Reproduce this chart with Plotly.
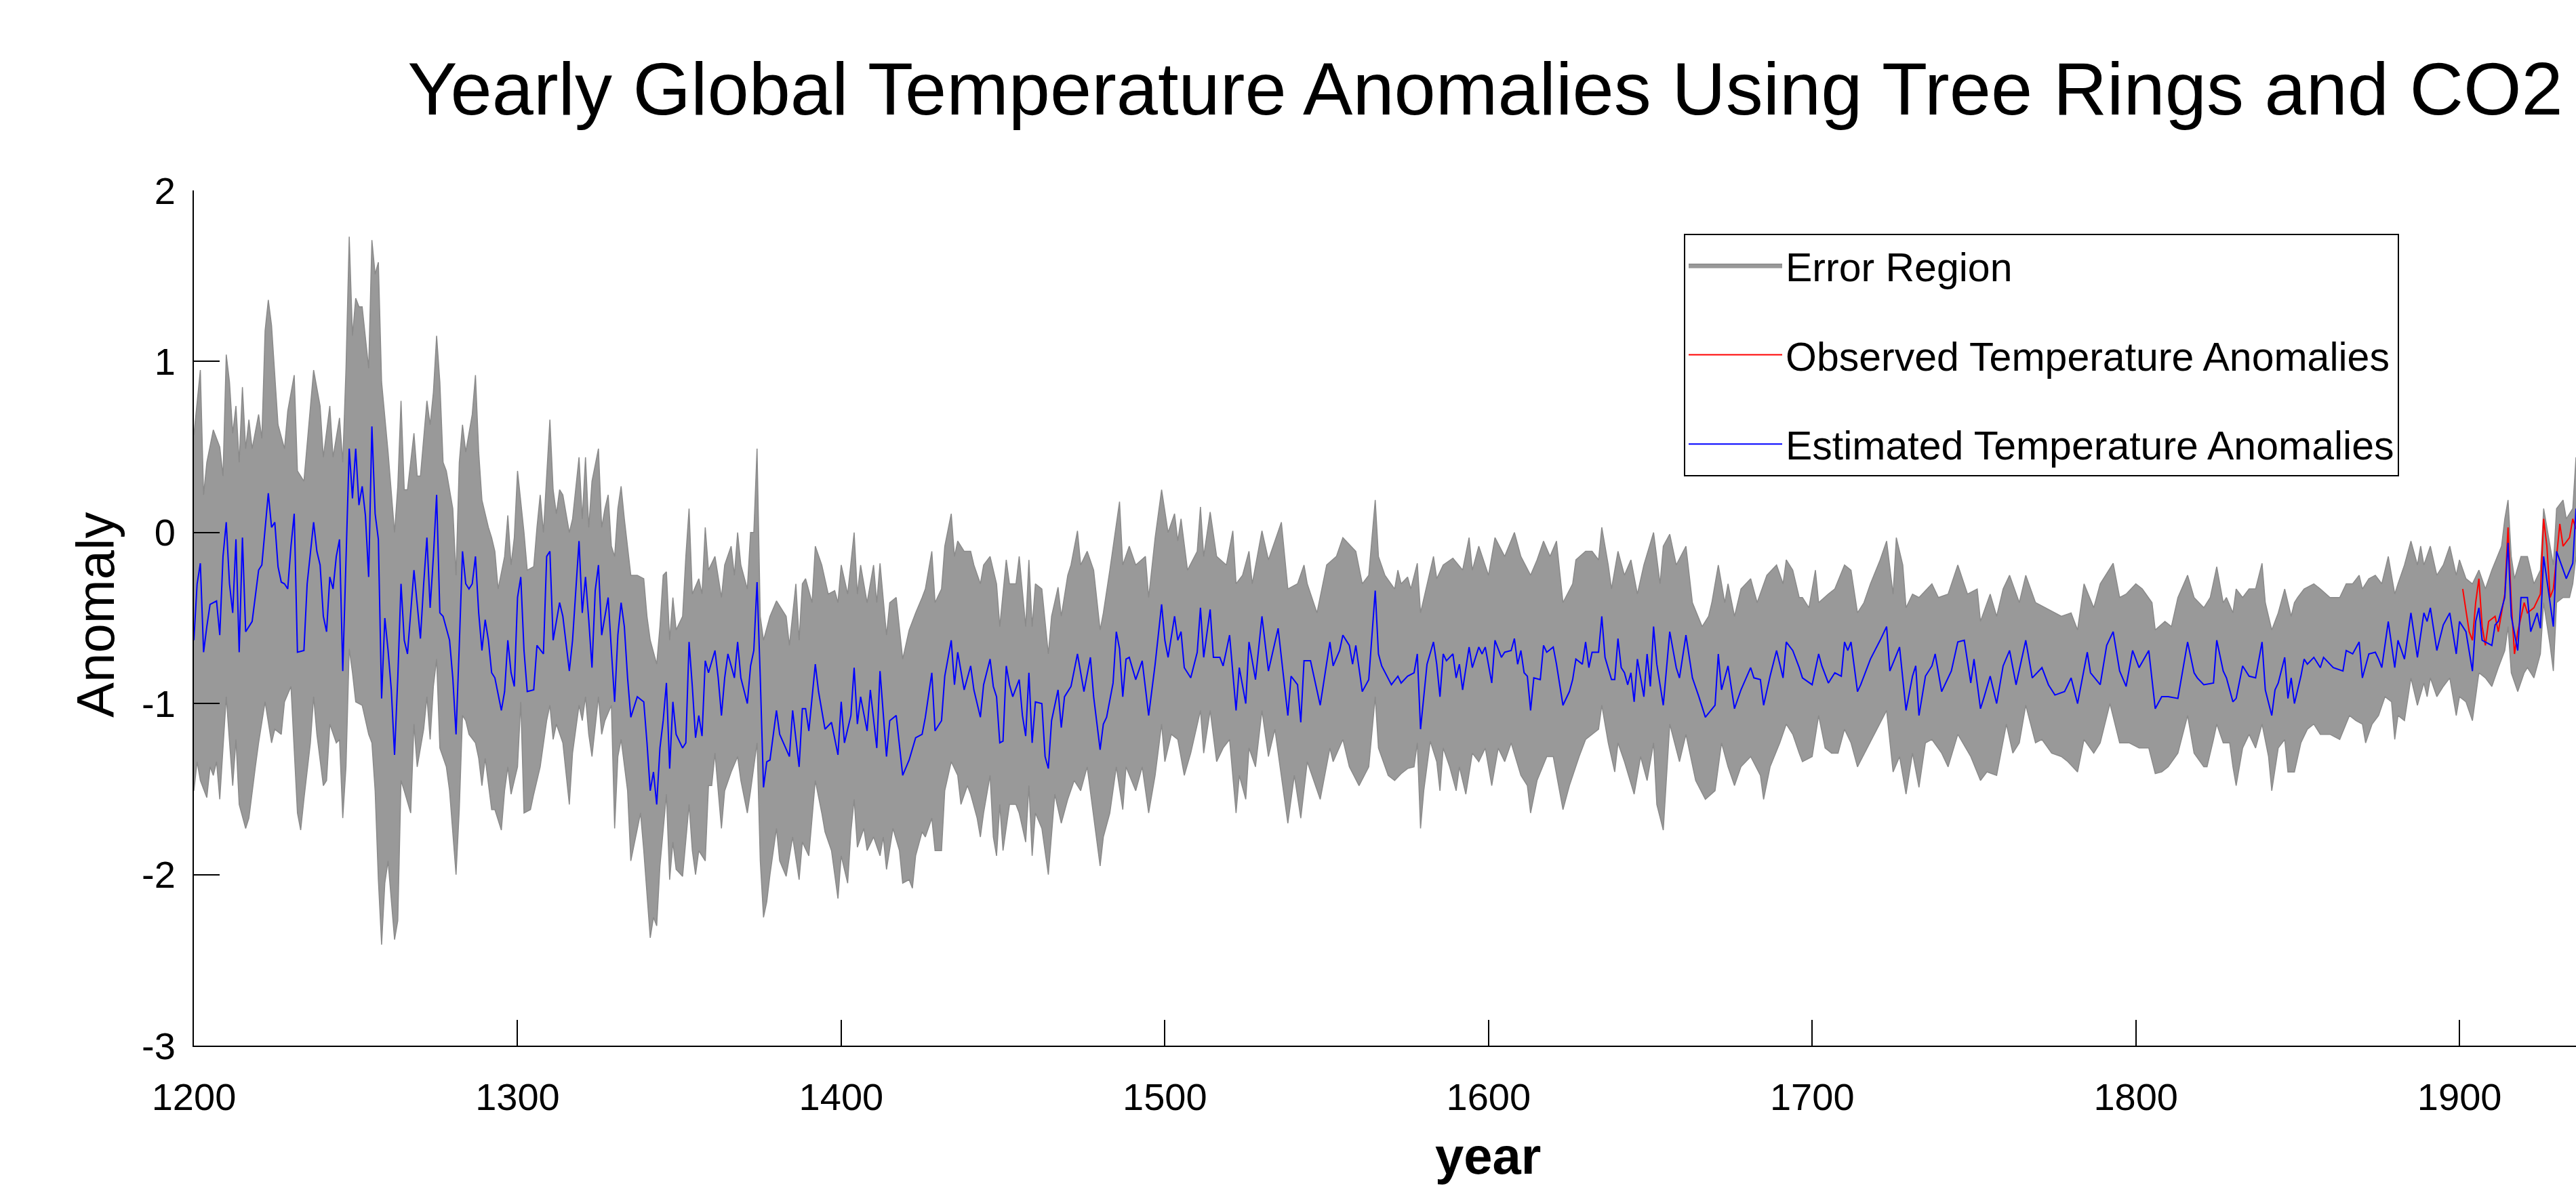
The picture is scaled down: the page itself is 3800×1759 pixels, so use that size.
import plotly.graph_objects as go

# ---------------- data ----------------
year_ticks = [1200, 1300, 1400, 1500, 1600, 1700, 1800, 1900]
anomaly_ticks = [-3, -2, -1, 0, 1, 2]
anomaly_tick_labels = ["-3", "-2", "-1", "0", "1", "2"]

# Estimated temperature anomalies (blue)
estimated = [
    (1200,-0.63),(1201,-0.30),(1202,-0.18),(1203,-0.70),(1204,-0.55),(1205,-0.42),(1207,-0.40),(1208,-0.60),
    (1209,-0.14),(1210,0.06),(1211,-0.30),(1212,-0.47),(1213,-0.04),(1214,-0.70),(1215,-0.03),(1216,-0.58),
    (1218,-0.52),(1219,-0.36),(1220,-0.22),(1221,-0.19),(1222,0.03),(1223,0.23),(1224,0.03),(1225,0.06),
    (1226,-0.20),(1227,-0.29),(1228,-0.30),(1229,-0.33),(1230,-0.08),(1231,0.11),(1232,-0.70),(1234,-0.69),
    (1235,-0.30),(1237,0.06),(1238,-0.11),(1239,-0.19),(1240,-0.49),(1241,-0.58),(1242,-0.26),(1243,-0.33),
    (1244,-0.14),(1245,-0.04),(1246,-0.81),(1247,-0.14),(1248,0.49),(1249,0.20),(1250,0.49),(1251,0.16),
    (1252,0.27),(1253,0.10),(1254,-0.26),(1255,0.62),(1256,0.11),(1257,-0.04),(1258,-0.97),(1259,-0.50),
    (1260,-0.69),(1261,-0.92),(1262,-1.30),(1263,-0.85),(1264,-0.30),(1265,-0.63),(1266,-0.71),(1268,-0.22),
    (1269,-0.41),(1270,-0.62),(1271,-0.30),(1272,-0.03),(1273,-0.44),(1274,-0.14),(1275,0.22),(1276,-0.47),
    (1277,-0.49),(1279,-0.63),(1280,-0.85),(1281,-1.18),(1282,-0.66),(1283,-0.11),(1284,-0.30),(1285,-0.33),
    (1286,-0.30),(1287,-0.14),(1288,-0.47),(1289,-0.69),(1290,-0.51),(1291,-0.63),(1292,-0.82),(1293,-0.85),
    (1295,-1.04),(1296,-0.93),(1297,-0.63),(1298,-0.82),(1299,-0.90),(1300,-0.38),(1301,-0.26),(1302,-0.69),
    (1303,-0.93),(1305,-0.92),(1306,-0.66),(1308,-0.71),(1309,-0.14),(1310,-0.11),(1311,-0.63),(1313,-0.41),
    (1314,-0.49),(1316,-0.81),(1317,-0.63),(1319,-0.05),(1320,-0.47),(1321,-0.26),(1322,-0.51),(1323,-0.79),
    (1324,-0.34),(1325,-0.19),(1326,-0.60),(1327,-0.49),(1328,-0.38),(1329,-0.69),(1330,-0.99),(1331,-0.60),
    (1332,-0.41),(1333,-0.55),(1334,-0.85),(1335,-1.08),(1337,-0.96),(1339,-0.99),(1340,-1.23),(1341,-1.51),
    (1342,-1.40),(1343,-1.59),(1344,-1.26),(1345,-1.10),(1346,-0.88),(1347,-1.38),(1348,-0.99),(1349,-1.18),
    (1351,-1.26),(1352,-1.23),(1353,-0.64),(1354,-0.90),(1355,-1.20),(1356,-1.07),(1357,-1.19),(1358,-0.75),
    (1359,-0.82),(1361,-0.69),(1362,-0.85),(1363,-1.07),(1364,-0.85),(1365,-0.71),(1367,-0.85),(1368,-0.64),
    (1369,-0.85),(1371,-1.00),(1372,-0.78),(1373,-0.69),(1374,-0.29),(1375,-0.85),(1376,-1.49),(1377,-1.34),
    (1378,-1.33),(1380,-1.04),(1381,-1.18),(1384,-1.31),(1385,-1.04),(1387,-1.37),(1388,-1.03),(1389,-1.03),
    (1390,-1.16),(1392,-0.77),(1393,-0.93),(1395,-1.15),(1397,-1.11),(1399,-1.30),(1400,-0.99),(1401,-1.23),
    (1403,-1.07),(1404,-0.79),(1405,-1.12),(1406,-0.96),(1408,-1.16),(1409,-0.92),(1411,-1.26),(1412,-0.81),
    (1414,-1.31),(1415,-1.10),(1417,-1.07),(1419,-1.42),(1421,-1.33),(1423,-1.20),(1425,-1.18),(1426,-1.08),
    (1428,-0.82),(1429,-1.16),(1431,-1.10),(1432,-0.84),(1434,-0.63),(1435,-0.89),(1436,-0.70),(1438,-0.92),
    (1440,-0.78),(1441,-0.92),(1443,-1.08),(1444,-0.89),(1446,-0.74),(1447,-0.90),(1448,-0.96),(1449,-1.23),
    (1450,-1.22),(1451,-0.78),(1452,-0.89),(1453,-0.96),(1455,-0.86),(1456,-1.07),(1457,-1.19),(1458,-0.82),
    (1459,-1.23),(1460,-0.99),(1462,-1.00),(1463,-1.31),(1464,-1.38),(1465,-1.10),(1467,-0.92),(1468,-1.14),
    (1469,-0.96),(1471,-0.90),(1473,-0.71),(1475,-0.93),(1477,-0.73),(1478,-0.96),(1480,-1.27),(1481,-1.12),
    (1482,-1.08),(1484,-0.88),(1485,-0.58),(1486,-0.68),(1487,-0.96),(1488,-0.74),(1489,-0.73),(1491,-0.86),
    (1493,-0.75),(1495,-1.07),(1497,-0.77),(1499,-0.42),(1500,-0.63),(1501,-0.73),(1503,-0.49),(1504,-0.63),
    (1505,-0.58),(1506,-0.79),(1508,-0.85),(1510,-0.70),(1511,-0.44),(1512,-0.73),(1514,-0.45),(1515,-0.73),
    (1517,-0.73),(1518,-0.78),(1520,-0.60),(1522,-1.04),(1523,-0.79),(1525,-1.00),(1526,-0.64),(1528,-0.86),
    (1530,-0.49),(1532,-0.81),(1535,-0.56),(1538,-1.07),(1539,-0.84),(1541,-0.89),(1542,-1.11),(1543,-0.75),
    (1545,-0.75),(1548,-1.01),(1551,-0.64),(1552,-0.78),(1554,-0.69),(1555,-0.60),(1557,-0.66),(1558,-0.77),
    (1559,-0.66),(1561,-0.93),(1563,-0.86),(1565,-0.34),(1566,-0.71),(1567,-0.78),(1570,-0.89),(1572,-0.84),
    (1573,-0.88),(1575,-0.84),(1577,-0.82),(1578,-0.71),(1579,-1.15),(1580,-0.96),(1581,-0.77),(1583,-0.64),
    (1584,-0.77),(1585,-0.96),(1586,-0.71),(1587,-0.75),(1589,-0.71),(1590,-0.85),(1591,-0.77),(1592,-0.92),
    (1594,-0.67),(1595,-0.79),(1597,-0.67),(1598,-0.71),(1599,-0.67),(1601,-0.88),(1602,-0.63),(1604,-0.73),
    (1605,-0.70),(1607,-0.69),(1608,-0.62),(1609,-0.77),(1610,-0.69),(1611,-0.82),(1612,-0.84),(1613,-1.04),
    (1614,-0.85),(1616,-0.86),(1617,-0.66),(1618,-0.70),(1620,-0.67),(1621,-0.77),(1623,-1.01),(1625,-0.93),
    (1626,-0.86),(1627,-0.74),(1629,-0.77),(1630,-0.64),(1631,-0.79),(1632,-0.70),(1634,-0.70),(1635,-0.49),
    (1636,-0.73),(1638,-0.86),(1639,-0.86),(1640,-0.62),(1641,-0.79),(1642,-0.82),(1643,-0.89),(1644,-0.82),
    (1645,-0.99),(1646,-0.74),(1648,-0.96),(1649,-0.71),(1650,-0.90),(1651,-0.55),(1652,-0.77),(1654,-1.01),
    (1656,-0.58),(1658,-0.79),(1659,-0.85),(1661,-0.60),(1663,-0.85),(1665,-0.96),(1667,-1.08),(1670,-1.01),
    (1671,-0.71),(1672,-0.92),(1674,-0.78),(1676,-1.03),(1678,-0.92),(1681,-0.79),(1682,-0.85),(1684,-0.86),
    (1685,-1.01),(1687,-0.84),(1689,-0.69),(1691,-0.85),(1692,-0.64),(1694,-0.69),(1696,-0.79),(1697,-0.85),
    (1700,-0.89),(1702,-0.71),(1703,-0.78),(1705,-0.88),(1707,-0.82),(1709,-0.84),(1710,-0.64),(1711,-0.69),
    (1712,-0.64),(1714,-0.93),(1715,-0.89),(1718,-0.74),(1721,-0.63),(1723,-0.55),(1724,-0.81),(1727,-0.67),
    (1729,-1.04),(1731,-0.84),(1732,-0.78),(1733,-1.07),(1735,-0.84),(1737,-0.78),(1738,-0.71),(1740,-0.93),
    (1743,-0.81),(1745,-0.64),(1747,-0.63),(1749,-0.88),(1750,-0.74),(1752,-1.03),(1753,-0.97),(1755,-0.84),
    (1757,-1.00),(1759,-0.78),(1761,-0.69),(1763,-0.89),(1766,-0.63),(1768,-0.85),(1771,-0.79),(1773,-0.89),
    (1775,-0.95),(1778,-0.93),(1780,-0.85),(1782,-1.00),(1785,-0.70),(1786,-0.82),(1789,-0.89),(1791,-0.66),
    (1793,-0.58),(1795,-0.81),(1797,-0.90),(1799,-0.69),(1801,-0.79),(1804,-0.69),(1806,-1.03),(1808,-0.96),
    (1810,-0.96),(1813,-0.97),(1815,-0.74),(1816,-0.64),(1818,-0.82),(1819,-0.85),(1821,-0.89),(1824,-0.88),
    (1825,-0.63),(1827,-0.81),(1828,-0.85),(1830,-0.99),(1831,-0.97),(1833,-0.78),(1835,-0.84),(1837,-0.85),
    (1839,-0.64),(1840,-0.92),(1842,-1.07),(1843,-0.92),(1844,-0.88),(1846,-0.73),(1847,-0.97),(1848,-0.85),
    (1849,-1.00),(1851,-0.84),(1852,-0.74),(1853,-0.77),(1855,-0.73),(1857,-0.79),(1858,-0.73),(1861,-0.79),
    (1864,-0.81),(1865,-0.69),(1867,-0.71),(1869,-0.64),(1870,-0.85),(1872,-0.71),(1874,-0.70),(1875,-0.74),
    (1876,-0.79),(1878,-0.52),(1880,-0.79),(1881,-0.63),(1883,-0.74),(1885,-0.47),(1887,-0.73),(1889,-0.47),
    (1890,-0.52),(1891,-0.44),(1893,-0.69),(1895,-0.54),(1897,-0.47),(1899,-0.71),(1900,-0.52),(1902,-0.58),
    (1904,-0.81),(1905,-0.52),(1906,-0.44),(1907,-0.63),(1910,-0.66),(1911,-0.54),(1912,-0.52),(1914,-0.38),
    (1915,-0.06),(1916,-0.49),(1918,-0.69),(1919,-0.38),(1921,-0.38),(1922,-0.58),(1924,-0.47),(1925,-0.56),
    (1926,-0.14),(1927,-0.27),(1929,-0.55),(1930,-0.11),(1932,-0.22),(1933,-0.27),(1935,-0.18),(1936,0.14),
]

# Observed temperature anomalies (red)
observed = [
    (1901,-0.33),(1903,-0.58),(1904,-0.63),(1905,-0.41),(1906,-0.27),(1907,-0.55),(1908,-0.66),(1909,-0.52),
    (1911,-0.49),(1912,-0.58),(1914,-0.36),(1915,0.03),(1916,-0.41),(1917,-0.71),(1918,-0.58),(1920,-0.41),
    (1921,-0.47),(1923,-0.44),(1925,-0.36),(1926,0.08),(1927,-0.08),(1928,-0.38),(1929,-0.33),(1931,0.05),
    (1932,-0.08),(1934,-0.03),(1935,0.08),(1936,0.02),
]

# Upper edge of the error region
error_upper = [
    (1200,0.57),(1202,0.95),(1203,0.22),(1204,0.41),(1206,0.60),(1208,0.50),(1209,0.33),(1210,1.04),
    (1211,0.88),(1212,0.58),(1213,0.74),(1214,0.41),(1215,0.85),(1216,0.49),(1217,0.66),(1218,0.49),
    (1220,0.69),(1221,0.55),(1222,1.18),(1223,1.36),(1224,1.21),(1226,0.63),(1228,0.49),(1229,0.71),
    (1231,0.92),(1232,0.36),(1234,0.30),(1236,0.74),(1237,0.95),(1239,0.74),(1240,0.44),(1242,0.74),
    (1243,0.44),(1245,0.67),(1246,0.41),(1247,0.96),(1248,1.73),(1249,1.15),(1250,1.37),(1251,1.32),
    (1252,1.32),(1254,0.96),(1255,1.71),(1256,1.51),(1257,1.58),(1258,0.88),(1260,0.47),(1262,0.00),
    (1263,0.27),(1264,0.77),(1265,0.25),(1266,0.25),(1268,0.58),(1269,0.33),(1270,0.33),(1272,0.77),
    (1273,0.63),(1274,0.82),(1275,1.15),(1276,0.88),(1277,0.41),(1278,0.36),(1280,0.14),(1281,-0.25),
    (1282,0.41),(1283,0.63),(1284,0.47),(1286,0.69),(1287,0.92),(1288,0.47),(1289,0.19),(1291,0.03),
    (1292,-0.03),(1293,-0.11),(1294,-0.33),(1296,-0.14),(1297,0.10),(1298,-0.19),(1299,-0.03),(1300,0.36),
    (1302,0.00),(1303,-0.22),(1305,-0.20),(1306,0.03),(1307,0.22),(1308,0.00),(1310,0.66),(1311,0.25),
    (1312,0.11),(1313,0.25),(1314,0.22),(1316,0.00),(1317,0.08),(1319,0.44),(1320,0.08),(1321,0.44),
    (1322,0.03),(1323,0.30),(1325,0.49),(1326,0.03),(1327,0.14),(1328,0.22),(1329,-0.08),(1330,-0.14),
    (1331,0.14),(1332,0.27),(1333,0.08),(1335,-0.25),(1337,-0.25),(1339,-0.27),(1340,-0.49),(1341,-0.63),
    (1343,-0.77),(1344,-0.55),(1345,-0.25),(1346,-0.23),(1347,-0.63),(1348,-0.38),(1349,-0.57),(1351,-0.49),
    (1352,-0.14),(1353,0.14),(1354,-0.36),(1356,-0.27),(1357,-0.36),(1358,0.03),(1359,-0.22),(1361,-0.14),
    (1362,-0.27),(1363,-0.38),(1364,-0.19),(1366,-0.08),(1367,-0.25),(1368,0.00),(1369,-0.19),(1371,-0.33),
    (1372,0.00),(1373,0.00),(1374,0.49),(1375,-0.49),(1376,-0.63),(1378,-0.49),(1380,-0.40),(1383,-0.49),
    (1384,-0.66),(1386,-0.30),(1387,-0.63),(1388,-0.30),(1389,-0.27),(1391,-0.41),(1392,-0.08),(1394,-0.19),
    (1396,-0.36),(1398,-0.34),(1399,-0.41),(1400,-0.19),(1402,-0.36),(1404,0.00),(1405,-0.36),(1406,-0.19),
    (1408,-0.41),(1410,-0.19),(1411,-0.41),(1412,-0.18),(1414,-0.60),(1415,-0.41),(1417,-0.38),(1419,-0.74),
    (1421,-0.57),(1423,-0.47),(1425,-0.38),(1426,-0.33),(1428,-0.11),(1429,-0.41),(1431,-0.33),(1432,-0.08),
    (1434,0.11),(1435,-0.14),(1436,-0.05),(1438,-0.11),(1440,-0.11),(1441,-0.19),(1443,-0.30),(1444,-0.19),
    (1446,-0.14),(1448,-0.30),(1449,-0.55),(1451,-0.16),(1452,-0.30),(1454,-0.30),(1455,-0.14),(1457,-0.55),
    (1458,-0.16),(1459,-0.55),(1460,-0.30),(1462,-0.33),(1464,-0.71),(1465,-0.49),(1467,-0.32),(1468,-0.49),
    (1470,-0.25),(1471,-0.19),(1473,0.01),(1474,-0.19),(1476,-0.11),(1478,-0.22),(1480,-0.57),(1481,-0.47),
    (1483,-0.22),(1486,0.18),(1487,-0.19),(1489,-0.08),(1491,-0.19),(1494,-0.14),(1495,-0.38),(1497,-0.03),
    (1499,0.25),(1501,0.00),(1503,0.11),(1504,-0.05),(1505,0.08),(1507,-0.22),(1510,-0.11),(1511,0.15),
    (1512,-0.14),(1514,0.12),(1516,-0.14),(1519,-0.19),(1521,0.01),(1522,-0.30),(1524,-0.25),(1526,-0.11),
    (1527,-0.30),(1530,0.01),(1532,-0.16),(1536,0.06),(1538,-0.33),(1541,-0.30),(1543,-0.19),(1544,-0.30),
    (1547,-0.47),(1550,-0.19),(1553,-0.14),(1555,-0.03),(1559,-0.11),(1561,-0.30),(1563,-0.25),(1565,0.19),
    (1566,-0.14),(1568,-0.25),(1571,-0.33),(1572,-0.22),(1573,-0.30),(1575,-0.26),(1576,-0.33),(1578,-0.18),
    (1579,-0.47),(1581,-0.30),(1583,-0.14),(1584,-0.27),(1586,-0.19),(1589,-0.15),(1592,-0.22),(1594,-0.03),
    (1595,-0.22),(1597,-0.08),(1600,-0.25),(1602,-0.03),(1605,-0.14),(1608,0.00),(1610,-0.14),(1613,-0.25),
    (1615,-0.16),(1617,-0.05),(1619,-0.14),(1621,-0.05),(1623,-0.41),(1626,-0.30),(1627,-0.16),(1630,-0.11),
    (1632,-0.11),(1634,-0.16),(1635,0.03),(1637,-0.19),(1638,-0.33),(1640,-0.11),(1642,-0.25),(1644,-0.16),
    (1646,-0.36),(1648,-0.19),(1651,0.00),(1653,-0.30),(1654,-0.08),(1656,-0.01),(1658,-0.19),(1661,-0.08),
    (1663,-0.41),(1666,-0.55),(1668,-0.49),(1669,-0.41),(1671,-0.19),(1673,-0.41),(1674,-0.30),(1676,-0.49),
    (1678,-0.33),(1681,-0.27),(1683,-0.41),(1686,-0.25),(1689,-0.19),(1691,-0.30),(1692,-0.16),(1694,-0.22),
    (1696,-0.38),(1697,-0.38),(1699,-0.44),(1701,-0.22),(1702,-0.41),(1705,-0.36),(1707,-0.33),(1710,-0.19),
    (1712,-0.22),(1714,-0.47),(1716,-0.41),(1718,-0.30),(1721,-0.16),(1723,-0.05),(1725,-0.36),(1726,-0.03),
    (1728,-0.19),(1729,-0.44),(1731,-0.36),(1733,-0.38),(1734,-0.36),(1737,-0.30),(1739,-0.38),(1742,-0.36),
    (1745,-0.19),(1748,-0.36),(1751,-0.33),(1752,-0.52),(1755,-0.36),(1757,-0.49),(1759,-0.33),(1761,-0.25),
    (1764,-0.41),(1766,-0.25),(1769,-0.41),(1772,-0.44),(1775,-0.47),(1777,-0.49),(1780,-0.47),(1782,-0.57),
    (1784,-0.30),(1787,-0.44),(1789,-0.30),(1793,-0.18),(1795,-0.38),(1797,-0.36),(1800,-0.30),(1802,-0.33),
    (1805,-0.41),(1806,-0.57),(1809,-0.52),(1811,-0.55),(1813,-0.38),(1816,-0.25),(1818,-0.38),(1821,-0.44),
    (1823,-0.38),(1825,-0.20),(1827,-0.41),(1828,-0.38),(1830,-0.47),(1831,-0.33),(1833,-0.38),(1835,-0.33),
    (1837,-0.33),(1839,-0.18),(1840,-0.41),(1842,-0.57),(1844,-0.47),(1846,-0.33),(1848,-0.49),(1849,-0.41),
    (1850,-0.38),(1852,-0.33),(1855,-0.30),(1857,-0.33),(1860,-0.38),(1863,-0.38),(1865,-0.30),(1867,-0.30),
    (1869,-0.25),(1870,-0.33),(1872,-0.27),(1874,-0.25),(1876,-0.30),(1878,-0.14),(1880,-0.36),(1881,-0.30),
    (1883,-0.19),(1885,-0.05),(1887,-0.19),(1888,-0.08),(1889,-0.19),(1891,-0.08),(1893,-0.25),(1895,-0.19),
    (1897,-0.08),(1899,-0.25),(1900,-0.16),(1902,-0.27),(1904,-0.30),(1906,-0.22),(1908,-0.33),(1910,-0.22),
    (1913,-0.08),(1914,0.08),(1915,0.19),(1916,-0.14),(1917,-0.27),(1919,-0.14),(1921,-0.14),(1923,-0.30),
    (1925,-0.22),(1926,0.14),(1927,0.03),(1929,-0.19),(1930,0.14),(1932,0.19),(1933,0.08),(1935,0.14),
    (1936,0.44),
]

# Lower edge of the error region
error_lower = [
    (1200,-1.51),(1201,-1.34),(1202,-1.45),(1204,-1.55),(1205,-1.37),(1206,-1.42),(1207,-1.34),(1208,-1.56),
    (1210,-0.96),(1211,-1.23),(1212,-1.48),(1213,-1.21),(1214,-1.59),(1216,-1.73),(1217,-1.67),(1219,-1.37),
    (1220,-1.23),(1222,-0.99),(1224,-1.23),(1225,-1.15),(1227,-1.18),(1228,-0.99),(1230,-0.90),(1232,-1.64),
    (1233,-1.74),(1234,-1.56),(1236,-1.23),(1237,-0.96),(1238,-1.18),(1240,-1.48),(1241,-1.45),(1242,-1.12),
    (1244,-1.23),(1245,-1.21),(1246,-1.67),(1247,-1.37),(1248,-0.68),(1249,-0.82),(1250,-0.99),(1252,-1.01),
    (1254,-1.18),(1255,-1.23),(1256,-1.51),(1257,-2.03),(1258,-2.41),(1259,-2.05),(1260,-1.92),(1262,-2.38),
    (1263,-2.27),(1264,-1.45),(1265,-1.51),(1267,-1.64),(1268,-1.12),(1269,-1.37),(1271,-1.15),(1272,-0.96),
    (1273,-1.21),(1274,-0.90),(1275,-0.74),(1276,-1.26),(1278,-1.37),(1279,-1.51),(1281,-2.00),(1282,-1.62),
    (1283,-1.07),(1284,-1.10),(1285,-1.18),(1287,-1.23),(1288,-1.32),(1289,-1.48),(1290,-1.32),(1292,-1.62),
    (1293,-1.62),(1295,-1.74),(1296,-1.51),(1297,-1.37),(1298,-1.53),(1300,-1.37),(1301,-0.99),(1302,-1.64),
    (1304,-1.62),(1305,-1.53),(1307,-1.37),(1309,-1.10),(1310,-1.01),(1311,-1.21),(1312,-1.12),(1314,-1.23),
    (1316,-1.59),(1317,-1.29),(1319,-1.01),(1320,-1.10),(1321,-0.96),(1322,-1.18),(1323,-1.31),(1325,-0.96),
    (1326,-1.18),(1327,-1.10),(1329,-1.01),(1330,-1.73),(1331,-1.31),(1332,-1.21),(1334,-1.51),(1335,-1.92),
    (1337,-1.73),(1338,-1.64),(1339,-1.86),(1340,-2.10),(1341,-2.37),(1342,-2.25),(1343,-2.30),(1344,-1.95),
    (1346,-1.53),(1347,-2.03),(1348,-1.81),(1349,-1.97),(1351,-2.01),(1353,-1.59),(1354,-1.86),(1355,-2.00),
    (1356,-1.86),(1358,-1.92),(1359,-1.48),(1360,-1.48),(1361,-1.29),(1363,-1.73),(1364,-1.51),(1366,-1.40),
    (1368,-1.31),(1369,-1.45),(1371,-1.64),(1372,-1.51),(1374,-1.23),(1375,-1.92),(1376,-2.25),(1377,-2.16),
    (1378,-2.00),(1380,-1.73),(1381,-1.92),(1383,-2.01),(1385,-1.78),(1387,-2.03),(1388,-1.81),(1390,-1.89),
    (1392,-1.45),(1394,-1.64),(1395,-1.75),(1397,-1.86),(1399,-2.14),(1400,-1.89),(1402,-2.05),(1403,-1.75),
    (1404,-1.56),(1405,-1.84),(1407,-1.73),(1408,-1.86),(1410,-1.78),(1412,-1.89),(1413,-1.78),(1414,-1.97),
    (1416,-1.73),(1418,-1.86),(1419,-2.05),(1421,-2.03),(1422,-2.08),(1423,-1.89),(1425,-1.75),(1426,-1.78),
    (1428,-1.67),(1429,-1.86),(1431,-1.86),(1432,-1.51),(1434,-1.34),(1436,-1.42),(1437,-1.59),(1439,-1.48),
    (1440,-1.53),(1442,-1.67),(1443,-1.78),(1444,-1.64),(1446,-1.42),(1447,-1.78),(1448,-1.89),(1449,-1.59),
    (1450,-1.86),(1452,-1.59),(1454,-1.59),(1455,-1.64),(1457,-1.81),(1458,-1.48),(1459,-1.89),(1460,-1.64),
    (1462,-1.73),(1464,-2.00),(1465,-1.78),(1466,-1.53),(1468,-1.70),(1470,-1.56),(1472,-1.45),(1474,-1.51),
    (1476,-1.37),(1478,-1.67),(1480,-1.95),(1481,-1.78),(1483,-1.64),(1485,-1.37),(1487,-1.62),(1488,-1.37),
    (1491,-1.51),(1493,-1.37),(1495,-1.64),(1497,-1.42),(1499,-1.12),(1500,-1.34),(1502,-1.18),(1504,-1.21),
    (1506,-1.42),(1508,-1.29),(1511,-1.04),(1512,-1.29),(1514,-1.04),(1516,-1.34),(1518,-1.26),(1520,-1.21),
    (1522,-1.64),(1523,-1.42),(1525,-1.56),(1526,-1.26),(1528,-1.37),(1530,-1.04),(1532,-1.31),(1534,-1.15),
    (1538,-1.70),(1540,-1.42),(1542,-1.67),(1544,-1.34),(1548,-1.56),(1551,-1.26),(1552,-1.34),(1555,-1.21),
    (1557,-1.37),(1560,-1.48),(1563,-1.37),(1565,-0.96),(1566,-1.26),(1569,-1.42),(1571,-1.45),(1573,-1.41),
    (1575,-1.38),(1577,-1.37),(1578,-1.23),(1579,-1.73),(1580,-1.51),(1582,-1.22),(1584,-1.34),(1585,-1.51),
    (1586,-1.26),(1588,-1.37),(1590,-1.51),(1591,-1.37),(1593,-1.53),(1595,-1.29),(1597,-1.34),(1599,-1.26),
    (1601,-1.48),(1603,-1.26),(1605,-1.34),(1607,-1.23),(1610,-1.42),(1612,-1.48),(1613,-1.64),(1615,-1.45),
    (1618,-1.31),(1620,-1.31),(1623,-1.62),(1625,-1.48),(1628,-1.31),(1630,-1.21),(1632,-1.18),(1634,-1.15),
    (1635,-1.01),(1637,-1.23),(1639,-1.40),(1640,-1.23),(1642,-1.34),(1645,-1.53),(1647,-1.31),(1649,-1.45),
    (1651,-1.23),(1652,-1.59),(1654,-1.74),(1656,-1.12),(1659,-1.34),(1661,-1.18),(1664,-1.45),(1667,-1.56),
    (1670,-1.51),(1672,-1.23),(1674,-1.37),(1676,-1.48),(1678,-1.37),(1681,-1.31),(1684,-1.42),(1685,-1.56),
    (1687,-1.37),(1690,-1.23),(1692,-1.12),(1694,-1.18),(1696,-1.29),(1697,-1.34),(1700,-1.31),(1702,-1.07),
    (1704,-1.26),(1706,-1.29),(1708,-1.29),(1710,-1.15),(1712,-1.23),(1714,-1.37),(1717,-1.26),(1720,-1.15),
    (1723,-1.04),(1725,-1.40),(1727,-1.31),(1729,-1.53),(1731,-1.29),(1733,-1.49),(1735,-1.23),(1737,-1.21),
    (1740,-1.29),(1742,-1.37),(1745,-1.18),(1749,-1.31),(1752,-1.45),(1754,-1.40),(1757,-1.42),(1760,-1.12),
    (1762,-1.29),(1764,-1.23),(1766,-1.01),(1769,-1.23),(1771,-1.21),(1774,-1.29),(1777,-1.31),(1779,-1.34),
    (1782,-1.40),(1784,-1.21),(1787,-1.29),(1789,-1.23),(1792,-1.00),(1795,-1.23),(1798,-1.23),(1801,-1.26),
    (1804,-1.26),(1806,-1.41),(1808,-1.40),(1810,-1.37),(1813,-1.29),(1816,-1.07),(1818,-1.29),(1821,-1.37),
    (1822,-1.37),(1824,-1.21),(1825,-1.12),(1827,-1.23),(1829,-1.23),(1830,-1.37),(1831,-1.48),(1833,-1.26),
    (1835,-1.18),(1837,-1.26),(1839,-1.12),(1841,-1.31),(1842,-1.51),(1844,-1.26),(1846,-1.21),(1847,-1.40),
    (1849,-1.40),(1851,-1.23),(1853,-1.15),(1855,-1.12),(1857,-1.18),(1860,-1.18),(1863,-1.21),(1866,-1.07),
    (1868,-1.10),(1870,-1.12),(1871,-1.23),(1873,-1.12),(1875,-1.07),(1877,-0.96),(1879,-0.99),(1880,-1.21),
    (1881,-1.07),(1883,-1.10),(1885,-0.85),(1887,-1.01),(1889,-0.88),(1890,-0.96),(1891,-0.85),(1893,-0.96),
    (1895,-0.90),(1897,-0.85),(1899,-1.07),(1900,-0.96),(1902,-0.99),(1904,-1.10),(1906,-0.82),(1908,-0.85),
    (1910,-0.90),(1912,-0.79),(1914,-0.69),(1915,-0.55),(1916,-0.82),(1918,-0.93),(1920,-0.82),(1921,-0.79),
    (1923,-0.85),(1925,-0.71),(1926,-0.41),(1928,-0.66),(1929,-0.81),(1930,-0.41),(1932,-0.38),(1934,-0.38),
    (1935,-0.30),(1936,-0.14),
]

# ---------------- figure ----------------
def split(pairs):
    return [p[0] for p in pairs], [p[1] for p in pairs]

est_x, est_y = split(estimated)
obs_x, obs_y = split(observed)
up_x, up_y = split(error_upper)
lo_x, lo_y = split(error_lower)

FONT = "'Liberation Sans', Arial, sans-serif"

fig = go.Figure()
fig.add_trace(go.Scatter(x=lo_x, y=lo_y, mode="lines", line=dict(color="#8a8a8a", width=1.5),
                         showlegend=False, hoverinfo="skip", legendgroup="err"))
fig.add_trace(go.Scatter(x=up_x, y=up_y, mode="lines", fill="tonexty", fillcolor="#999999",
                         line=dict(color="#8a8a8a", width=1.5), name="Error Region", legendgroup="err"))
fig.add_trace(go.Scatter(x=obs_x, y=obs_y, mode="lines", line=dict(color="#ff0000", width=2),
                         name="Observed Temperature Anomalies", legendgroup="obs"))
fig.add_trace(go.Scatter(x=est_x, y=est_y, mode="lines", line=dict(color="#0000ff", width=2),
                         name="Estimated Temperature Anomalies", legendgroup="est"))

axis_common = dict(
    showgrid=False, zeroline=False, showline=True, linecolor="black", linewidth=2,
    ticks="inside", ticklen=38, tickwidth=2, tickcolor="black",
    tickfont=dict(family=FONT, size=56, color="black"),
)

fig.update_layout(
    width=3800, height=1759,
    margin=dict(l=286, r=0, t=281, b=216, pad=0),
    paper_bgcolor="white", plot_bgcolor="white",
    font=dict(family=FONT, color="black"),
    title=dict(text="Yearly Global Temperature Anomalies Using Tree Rings and CO2",
               x=2191 / 3800, xanchor="center", y=1 - 130 / 1759, yanchor="middle",
               font=dict(family=FONT, size=110, color="black")),
    xaxis=dict(range=[1200, 1936], tickvals=year_ticks, ticklabelstandoff=26, **axis_common),
    yaxis=dict(range=[-3, 2], tickvals=anomaly_ticks, ticktext=anomaly_tick_labels,
               ticklabelstandoff=14, **axis_common),
    legend=dict(x=(2484 - 286) / 3514, y=1 - (345 - 281) / 1262, xanchor="left", yanchor="top",
                bgcolor="white", bordercolor="black", borderwidth=2,
                font=dict(family=FONT, size=59, color="black"),
                traceorder="grouped", tracegroupgap=52, itemwidth=138),
    annotations=[
        dict(text="Anomaly", xref="paper", yref="paper", x=(141 - 286) / 3514, y=(1543 - 908) / 1262,
             xanchor="center", yanchor="middle", textangle=-90, showarrow=False,
             font=dict(family=FONT, size=78, color="black")),
        dict(text="<b>year</b>", xref="paper", yref="paper", x=(2195 - 286) / 3514, y=(1543 - 1706) / 1262,
             xanchor="center", yanchor="middle", showarrow=False,
             font=dict(family=FONT, size=76, color="black")),
    ],
)

fig.write_html("out.html")
